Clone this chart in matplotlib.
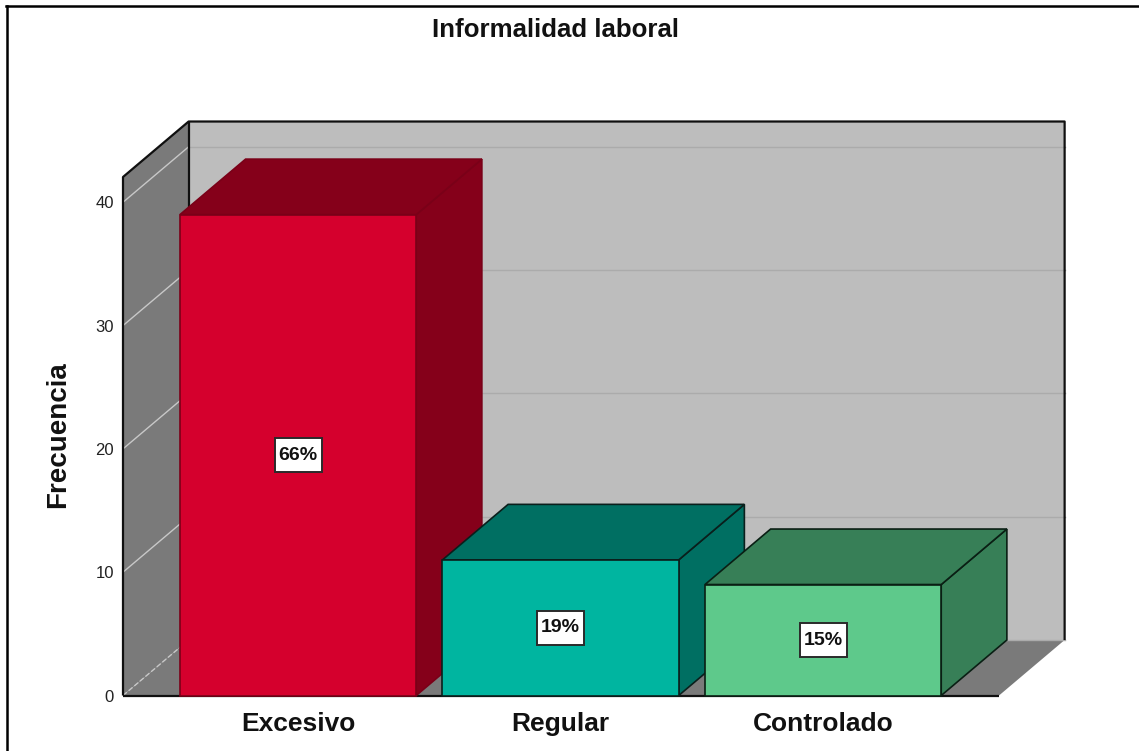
import matplotlib
matplotlib.use("Agg")
import matplotlib.pyplot as plt
from matplotlib.lines import Line2D
from matplotlib.patches import Polygon, Rectangle

plt.rcParams['font.family'] = ['Liberation Sans', 'DejaVu Sans']

# -----------------------------
# Data
# -----------------------------
categories = ["Excesivo", "Regular", "Controlado"]
frecuencia = [39, 11, 9]
porcentajes = ["66%", "19%", "15%"]
y_ticks = [0, 10, 20, 30, 40]

front_colors = ["#D5002D", "#00B5A0", "#5EC98B"]
dark_colors = ["#85001A", "#006F62", "#377F57"]
edge_colors = ["#7A0018", "#0A1F1C", "#0A1F14"]

# -----------------------------
# Figure / axes (front plane of the 3D box)
# -----------------------------
W, H = 1139, 751
fig = plt.figure(figsize=(W / 100, H / 100), dpi=100, facecolor="white")
ax = fig.add_axes([123 / W, (H - 695.5) / H, 876 / W, 518.5 / H])

x_min, x_max = -0.667, 2.67
y_min, y_max = 0, 42.05
ax.set_xlim(x_min, x_max)
ax.set_ylim(y_min, y_max)

# depth of the box, in data units
dx = 0.25
dy = 4.5
bar_width = 0.9

for s in ax.spines.values():
    s.set_visible(False)
ax.patch.set_visible(False)

# -----------------------------
# Walls
# -----------------------------
ax.add_patch(Polygon(
    [(x_min + dx, dy), (x_max + dx, dy), (x_max + dx, y_max + dy), (x_min + dx, y_max + dy)],
    facecolor="#BDBDBD", edgecolor="none", clip_on=False, zorder=1))
ax.add_patch(Polygon(
    [(x_min, y_min), (x_min + dx, dy), (x_min + dx, y_max + dy), (x_min, y_max)],
    facecolor="#7A7A7A", edgecolor="none", clip_on=False, zorder=1))
ax.add_patch(Polygon(
    [(x_min, y_min), (x_max, y_min), (x_max + dx, dy), (x_min + dx, dy)],
    facecolor="#7A7A7A", edgecolor="none", clip_on=False, zorder=1))

# gridlines on the back and side walls
for t in y_ticks:
    ax.plot([x_min + dx, x_max + dx], [t + dy, t + dy], color="#ABABAB", lw=1,
            clip_on=False, zorder=2)
    ax.plot([x_min, x_min + dx], [t, t + dy], color="#C8C8C8", lw=1,
            ls="--" if t == 0 else "-", clip_on=False, zorder=2)

# box outline
outline = dict(color="#101010", lw=1.6, clip_on=False, zorder=3, solid_capstyle="butt")
ax.plot([x_min, x_min, x_min + dx, x_max + dx, x_max + dx], [y_min, y_max, y_max + dy, y_max + dy, dy], **outline)
ax.plot([x_min + dx, x_min + dx], [dy, y_max + dy], **outline)
ax.plot([x_min, x_max], [y_min, y_min], **outline)

# -----------------------------
# Bars
# -----------------------------
box_w = 0.179
box_h = 2.76
for i, v in enumerate(frecuencia):
    z = 4 + i
    x0 = i - bar_width / 2
    x1 = i + bar_width / 2
    ax.add_patch(Polygon(
        [(x1, 0), (x1 + dx, dy), (x1 + dx, v + dy), (x1, v)],
        facecolor=dark_colors[i], edgecolor=edge_colors[i], lw=1.2, clip_on=False, zorder=z))
    ax.add_patch(Polygon(
        [(x0, v), (x1, v), (x1 + dx, v + dy), (x0 + dx, v + dy)],
        facecolor=dark_colors[i], edgecolor=edge_colors[i], lw=1.2, clip_on=False, zorder=z))
    ax.add_patch(Polygon(
        [(x0, 0), (x1, 0), (x1, v), (x0, v)],
        facecolor=front_colors[i], edgecolor=edge_colors[i], lw=1.2, clip_on=False, zorder=z))
    ax.add_patch(Rectangle(
        (i - box_w / 2, v / 2 - box_h / 2), box_w, box_h,
        facecolor="white", edgecolor="#2A2A2A", lw=1.4, zorder=9))
    ax.text(i, v / 2, porcentajes[i], ha="center", va="center", fontsize=14,
            fontweight="bold", color="#111111", zorder=10)

# -----------------------------
# Axis text
# -----------------------------
ax.set_xticks(range(len(categories)))
ax.set_xticklabels(categories, fontsize=19, color="#111111", fontweight="bold")
ax.set_yticks(y_ticks)
ax.set_yticklabels([str(t) for t in y_ticks], fontsize=12, color="#222222")
ax.tick_params(axis="x", length=0, pad=12)
ax.tick_params(axis="y", length=0, pad=6.5)
ax.set_ylabel("Frecuencia", fontsize=20, fontweight="bold", color="#111111")
ax.yaxis.set_label_coords(-0.0595, 0.503)

fig.text(556 / W, 1 - 30 / H, "Informalidad laboral", ha="center", va="center",
         fontsize=18.6, fontweight="bold", color="#111111")

# outer frame of the screenshot
frame = dict(color="black", lw=1.8, transform=fig.transFigure)
fig.add_artist(Line2D([7 / W, 7 / W], [0, 1 - 6 / H], **frame))
fig.add_artist(Line2D([6 / W, 1], [1 - 6 / H, 1 - 6 / H], **frame))

fig.savefig("out.png", dpi=100)
